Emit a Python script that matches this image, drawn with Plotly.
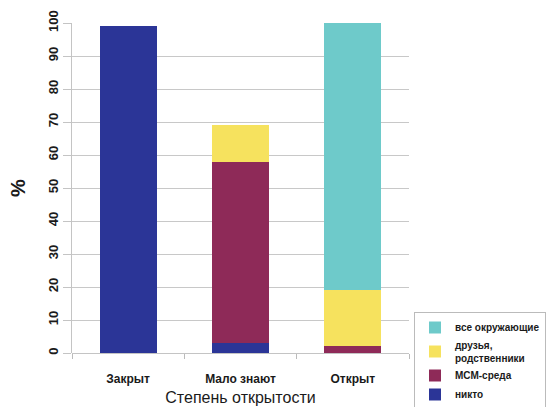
import plotly.graph_objects as go

# Openness categories and stacked shares (%)
categories = ["Закрыт", "Мало знают", "Открыт"]
nikto = [99, 3, 0]
msm_sreda = [0, 55, 2]
druzya = [0, 11, 17]
vse = [0, 0, 81]

series_names = ["никто", "МСМ-среда", "друзья,<br>родственники", "все окружающие"]
series_values = [nikto, msm_sreda, druzya, vse]
series_colors = ["#2B3597", "#8E2A58", "#F6E25E", "#6ECACA"]

y_ticks = list(range(0, 101, 10))

fig = go.Figure()
for name, vals, color in zip(series_names, series_values, series_colors):
    fig.add_trace(go.Bar(
        x=categories, y=vals, name=name,
        marker=dict(color=color, line=dict(width=0)),
        width=0.51,
    ))

font_family = "Liberation Sans, Arial, sans-serif"

fig.update_layout(
    width=549, height=407,
    margin=dict(l=72, r=140, t=23, b=54),
    barmode="stack",
    plot_bgcolor="white",
    paper_bgcolor="white",
    font=dict(family=font_family, color="#1A1A1A"),
    xaxis=dict(
        title=dict(text="Степень открытости", font=dict(size=16), standoff=6),
        tickfont=dict(size=12, weight="bold"),
        tickson="boundaries",
        ticks="outside", ticklen=5, tickcolor="#BBBBBB",
        ticklabelstandoff=17,
        automargin=False,
        showline=False,
        showgrid=False,
    ),
    yaxis=dict(
        title=dict(text="%", font=dict(size=20, weight="bold"), standoff=14),
        range=[0, 100],
        tickvals=y_ticks,
        tickangle=-90,
        tickfont=dict(size=13, weight="bold"),
        ticks="outside", ticklen=8, tickcolor="#C4C4C4",
        automargin=False,
        showgrid=True, gridcolor="#C8C8C8", gridwidth=1.3,
        showline=True, linecolor="#C4C4C4", linewidth=1,
        zeroline=True, zerolinecolor="#C4C4C4", zerolinewidth=1.3,
    ),
    legend=dict(
        traceorder="reversed",
        xref="container", yref="container",
        x=414 / 549, y=1 - 312 / 407,
        xanchor="left", yanchor="top",
        bordercolor="#BBBBBB", borderwidth=1,
        bgcolor="white",
        font=dict(size=10, weight="bold"),
        itemwidth=30,
        tracegroupgap=0,
    ),
)

fig.write_html("out.html")
